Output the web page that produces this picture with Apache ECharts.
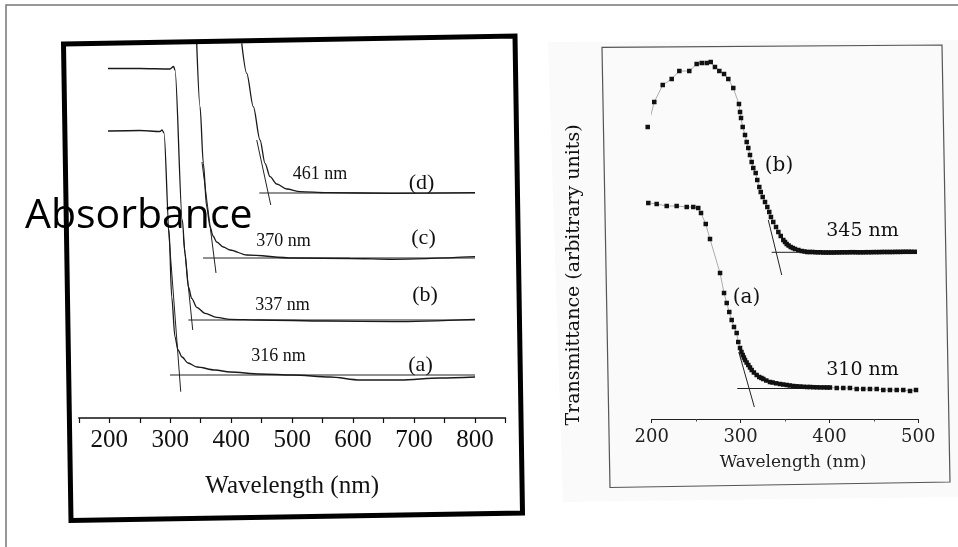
<!DOCTYPE html>
<html><head><meta charset="utf-8">
<script src="https://cdn.jsdelivr.net/npm/echarts@6/dist/echarts.min.js"></script>
<style>html,body{margin:0;padding:0;background:#fff}#c{width:958px;height:547px}</style>
</head><body><div id="c"></div>
<script>
// ---------- Left panel: absorbance spectra (arbitrary offset units) ----------
const leftTickLabels = [200, 300, 400, 500, 600, 700, 800];
const rightTickLabels = [200, 300, 400, 500];

const absWlA = [197.9, 250.4, 283.2, 286.5, 289.8, 298.0, 302.4, 307.8, 312.8, 319.3, 329.1, 343.9, 373.5, 398.1, 447.3, 501.5, 562.2, 611.4, 677.0, 742.7, 800.0];
const absA   = [2.87, 2.875, 2.865, 2.88, 2.85, 1.88, 1.21, 0.81, 0.68, 0.61, 0.55, 0.51, 0.48, 0.46, 0.44, 0.43, 0.41, 0.38, 0.38, 0.40, 0.41];

const absWlB = [197.9, 250.4, 299.6, 305.4, 307.8, 319.8, 324.2, 329.7, 335.2, 343.4, 357.1, 376.2, 398.1, 447.3, 556.7, 666.0, 800.0];
const absB   = [3.495, 3.495, 3.49, 3.515, 3.48, 1.98, 1.647, 1.313, 1.197, 1.107, 1.047, 1.007, 0.987, 0.98, 0.97, 0.963, 0.987];

const absWlC = [343.4, 348.9, 354.3, 359.8, 365.3, 370.2, 376.2, 387.1, 398.1, 425.5, 501.9, 595.0, 666.0, 800.0];
const absC   = [3.747, 3.113, 2.547, 2.113, 1.913, 1.82, 1.76, 1.71, 1.68, 1.63, 1.60, 1.595, 1.587, 1.613];

const absWlD = [417.3, 425.5, 436.3, 447.3, 455.5, 463.7, 474.7, 491.1, 512.9, 556.7, 666.0, 800.0];
const absD   = [3.747, 3.447, 3.113, 2.78, 2.547, 2.413, 2.34, 2.29, 2.263, 2.253, 2.247, 2.253];

// tangent / baseline construction lines (wavelength, value) endpoints
const tanWlA = [296.8, 317.2], tanA = [1.913, 0.263];
const baseWlA = [299.6, 800], baseA = [0.43, 0.43];
const tanWlB = [321.5, 336.9], tanB = [1.813, 0.88];
const baseWlB = [329.7, 800], baseB = [0.98, 0.98];
const tanWlC = [352.1, 375.1], tanC = [2.56, 1.45];
const baseWlC = [353.8, 800], baseC = [1.60, 1.60];
const tanWlD = [441.9, 464.9], tanD = [2.78, 2.13];
const baseWlD = [446.1, 800], baseD = [2.25, 2.25];

// ---------- Right panel: transmittance (arbitrary units) ----------
const trWlB = [195.5, 202.9, 212.4, 222.5, 231.1, 242.3, 250.6, 256.3, 261.9, 266.4, 271.2, 276.1, 281.4, 286.2, 291.8, 298.2, 299.4, 300.5, 302.4, 305.0, 306.9, 308.7, 310.6, 312.5, 314.3, 317.0, 318.8, 321.1, 322.7, 324.9, 327.5, 330.1, 332.3, 334.2, 336.8, 339.9, 342.5, 345.2, 348.1, 350.0, 351.9, 354.0, 356.4, 358.8, 361.2, 365.0, 368.8, 372, 375, 378, 381, 384, 387, 390, 393, 396, 399, 402, 405, 408, 411, 414, 417, 420, 423, 426, 429, 432, 435, 438, 441, 444, 447, 450, 453, 456, 459, 462, 465, 468, 471, 474, 477, 480, 483, 486, 489, 492, 496];
const trB   = [2.92, 3.17, 3.34, 3.40, 3.48, 3.48, 3.55, 3.56, 3.56, 3.57, 3.52, 3.48, 3.45, 3.40, 3.31, 3.15, 3.07, 3.01, 2.92, 2.84, 2.77, 2.71, 2.64, 2.57, 2.51, 2.46, 2.39, 2.32, 2.27, 2.22, 2.17, 2.12, 2.07, 2.02, 1.97, 1.92, 1.87, 1.83, 1.79, 1.77, 1.75, 1.735, 1.72, 1.71, 1.70, 1.69, 1.68, 1.675, 1.67, 1.67, 1.67, 1.668, 1.667, 1.667, 1.665, 1.665, 1.665, 1.665, 1.665, 1.666, 1.666, 1.667, 1.667, 1.667, 1.668, 1.668, 1.668, 1.667, 1.667, 1.667, 1.668, 1.668, 1.668, 1.669, 1.669, 1.669, 1.67, 1.67, 1.67, 1.67, 1.67, 1.671, 1.671, 1.671, 1.672, 1.672, 1.672, 1.672, 1.672];

const trWlA = [196.2, 205.6, 216.9, 228.1, 239.4, 246.8, 252.4, 255.5, 260.8, 265.6, 276.9, 281.4, 284.4, 287.3, 290.0, 292.6, 295.6, 297.4, 299.4, 301.0, 302.4, 303.7, 305.0, 306.8, 308.7, 310.6, 312.5, 315.0, 318.1, 321.0, 323.5, 325.6, 329.0, 333.1, 336.0, 340.0, 344.4, 348.0, 352.0, 355.5, 359.3, 363.0, 367.0, 371.0, 375.0, 378.1, 382.0, 386.0, 390.0, 394.0, 397.5, 400.6, 408.2, 415.6, 423.1, 430.7, 438.1, 445.6, 453.2, 460.6, 468.1, 475.7, 483.1, 490.7, 497.4];
const trA   = [2.16, 2.15, 2.13, 2.13, 2.12, 2.12, 2.11, 2.06, 1.95, 1.80, 1.46, 1.26, 1.16, 1.07, 0.99, 0.92, 0.86, 0.77, 0.71, 0.67, 0.64, 0.615, 0.59, 0.565, 0.54, 0.515, 0.49, 0.465, 0.44, 0.42, 0.41, 0.40, 0.385, 0.37, 0.365, 0.357, 0.35, 0.345, 0.34, 0.335, 0.33, 0.327, 0.325, 0.322, 0.32, 0.32, 0.318, 0.317, 0.316, 0.316, 0.315, 0.315, 0.31, 0.31, 0.31, 0.30, 0.30, 0.30, 0.30, 0.29, 0.29, 0.29, 0.29, 0.28, 0.29];

const trTanWlB = [331.2, 346.3], trTanB = [1.99, 1.44];
const trBaseWlB = [335.0, 400.0], trBaseB = [1.667, 1.667];
const trTanWlA = [298.0, 315.5], trTanA = [0.67, 0.12];
const trBaseWlA = [296.3, 400.0], trBaseA = [0.305, 0.305];

const zip = (xs, ys) => xs.map((x, i) => [x, ys[i]]);

const serifL = 'Liberation Serif';
const serifR = 'DejaVu Serif';
const ink = '#111';

function curve(xs, ys) {
  return { type: 'line', xAxisIndex: 0, yAxisIndex: 0, data: zip(xs, ys), symbol: 'none',
    smooth: 0.3, smoothMonotone: 'x', lineStyle: { color: '#1a1a1a', width: 1.3 }, z: 3 };
}
function thin(xs, ys, xi) {
  return { type: 'line', xAxisIndex: xi, yAxisIndex: xi, data: zip(xs, ys), symbol: 'none',
    lineStyle: { color: '#222', width: 1 }, z: 2 };
}
function dots(xs, ys) {
  return { type: 'line', xAxisIndex: 1, yAxisIndex: 1, data: zip(xs, ys), symbol: 'rect',
    symbolSize: 4.5, showAllSymbol: true, clip: false,
    itemStyle: { color: ink }, lineStyle: { color: '#777', width: 0.6 }, z: 4 };
}
function txt(x, y, text, font, extra) {
  return Object.assign({ type: 'text', x: x, y: y, z: 10,
    style: { text: text, font: font, fill: ink, align: 'center', verticalAlign: 'middle' } }, extra || {});
}

const chart = echarts.init(document.getElementById('c'), null, { renderer: 'canvas' });
chart.setOption({
  animation: false,
  backgroundColor: '#fff',
  grid: [
    { left: 78.8, right: 452.5, top: 42, bottom: 129 },
    { left: 651.7, right: 39.7, top: 44, bottom: 128 }
  ],
  xAxis: [
    { gridIndex: 0, type: 'value', min: 150, max: 850, interval: 50,
      axisLine: { lineStyle: { color: ink, width: 1.5 } },
      axisTick: { length: 5, lineStyle: { color: ink, width: 1.2 } },
      axisLabel: { formatter: v => leftTickLabels.includes(v) ? String(v) : '',
        fontFamily: serifL, fontSize: 25, color: ink, margin: 10 },
      splitLine: { show: false },
      name: 'Wavelength (nm)', nameLocation: 'middle', nameGap: 56,
      nameTextStyle: { fontFamily: serifL, fontSize: 25, color: ink } },
    { gridIndex: 1, type: 'value', min: 200, max: 500, interval: 100,
      axisLine: { lineStyle: { color: '#222', width: 1.2 } },
      axisTick: { length: 4, lineStyle: { color: '#222', width: 1 } },
      minorTick: { show: true, splitNumber: 2, length: 2.5, lineStyle: { color: '#444', width: 1 } },
      axisLabel: { formatter: v => rightTickLabels.includes(v) ? String(v) : '',
        fontFamily: serifR, fontSize: 18, color: '#222', margin: 9 },
      splitLine: { show: false },
      name: 'Wavelength (nm)', nameLocation: 'middle', nameGap: 35,
      nameTextStyle: { fontFamily: serifR, fontSize: 17, color: '#222', padding: [0, 0, 0, 16] } }
  ],
  yAxis: [
    { gridIndex: 0, type: 'value', min: 0, max: 3.76, show: false },
    { gridIndex: 1, type: 'value', min: 0, max: 3.75, show: false }
  ],
  graphic: [
    { type: 'polygon', z: -10, shape: { points: [[548, 42], [958, 40], [958, 497], [563, 502]] },
      style: { fill: '#fafafa', stroke: 'none' } },
    { type: 'polyline', z: 9, shape: { points: [[6, 547], [6, 5], [958, 5]] },
      style: { stroke: '#777', lineWidth: 1.5, fill: 'none' } },
    { type: 'polygon', z: 9, shape: { points: [[63.5, 44], [515, 36], [522.5, 513], [71, 520.5]] },
      style: { stroke: '#000', lineWidth: 5, fill: 'none', lineJoin: 'miter' } },
    { type: 'polygon', z: 9, shape: { points: [[602, 47.3], [942, 45], [950, 482], [610, 487.5]] },
      style: { stroke: '#555', lineWidth: 1.2, fill: 'none' } },
    { type: 'text', x: 25, y: 216, z: 11,
      style: { text: 'Absorbance', font: '41px "Open Sans"', fill: '#000', align: 'left', verticalAlign: 'middle' } },
    txt(320, 174, '461 nm', '18px "' + serifL + '"'),
    txt(421.5, 183, '(d)', '22px "' + serifL + '"'),
    txt(283.5, 241.5, '370 nm', '18px "' + serifL + '"'),
    txt(423.5, 238.5, '(c)', '22px "' + serifL + '"'),
    txt(282.5, 305, '337 nm', '18px "' + serifL + '"'),
    txt(425, 295.5, '(b)', '22px "' + serifL + '"'),
    txt(278.5, 356.5, '316 nm', '18px "' + serifL + '"'),
    txt(420.5, 365, '(a)', '22px "' + serifL + '"'),
    txt(779, 166, '(b)', '20px "' + serifR + '"'),
    txt(862.5, 231.5, '345 nm', '19px "' + serifR + '"'),
    txt(746.5, 298, '(a)', '20px "' + serifR + '"'),
    txt(862.5, 370, '310 nm', '19px "' + serifR + '"'),
    txt(574, 275, 'Transmittance (arbitrary units)', '19px "' + serifR + '"', { rotation: Math.PI / 2 })
  ],
  series: [
    curve(absWlA, absA), curve(absWlB, absB), curve(absWlC, absC), curve(absWlD, absD),
    thin(tanWlA, tanA, 0), thin(baseWlA, baseA, 0),
    thin(tanWlB, tanB, 0), thin(baseWlB, baseB, 0),
    thin(tanWlC, tanC, 0), thin(baseWlC, baseC, 0),
    thin(tanWlD, tanD, 0), thin(baseWlD, baseD, 0),
    dots(trWlB, trB), dots(trWlA, trA),
    thin(trTanWlB, trTanB, 1), thin(trBaseWlB, trBaseB, 1),
    thin(trTanWlA, trTanA, 1), thin(trBaseWlA, trBaseA, 1)
  ]
});
</script>
</body></html>
